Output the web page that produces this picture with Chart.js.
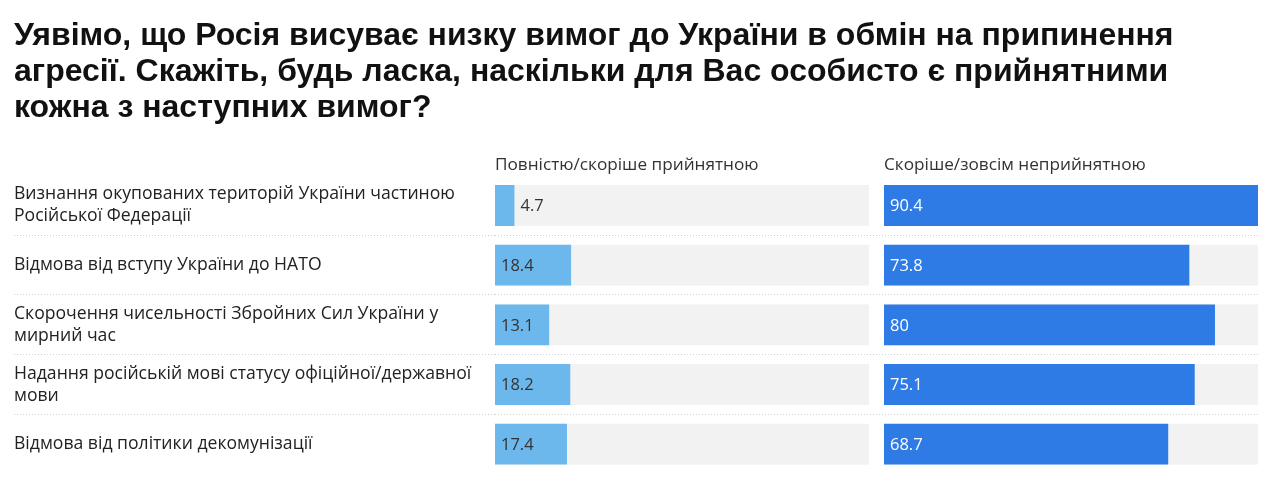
<!DOCTYPE html>
<html>
<head>
<meta charset="utf-8">
<script src="https://cdn.jsdelivr.net/npm/chart.js@4.4.1/dist/chart.umd.min.js"></script>
<style>
  html, body { margin: 0; padding: 0; background: #ffffff; }
  #wrap { width: 1279px; height: 494px; position: relative; }
</style>
</head>
<body>
<div id="wrap"><canvas id="c"></canvas></div>
<script>
const titleLines = [
  'Уявімо, що Росія висуває низку вимог до України в обмін на припинення',
  'агресії. Скажіть, будь ласка, наскільки для Вас особисто є прийнятними',
  'кожна з наступних вимог?'
];
const categories = [
  ['Визнання окупованих територій України частиною', 'Російської Федерації'],
  'Відмова від вступу України до НАТО',
  ['Скорочення чисельності Збройних Сил України у', 'мирний час'],
  ['Надання російській мові статусу офіційної/державної', 'мови'],
  'Відмова від політики декомунізації'
];
const seriesNames = ['Повністю/скоріше прийнятною', 'Скоріше/зовсім неприйнятною'];
const acceptable = [4.7, 18.4, 13.1, 18.2, 17.4];
const unacceptable = [90.4, 73.8, 80, 75.1, 68.7];

const colors = { light: '#6cb8ec', dark: '#2f7be6', track: '#f2f2f2' };
const valueMax = Math.max(...acceptable, ...unacceptable);
const bodyFont = 'Open Sans';

const trackPlugin = {
  id: 'tracks',
  beforeDatasetsDraw(chart) {
    const ctx = chart.ctx;
    ctx.save();
    ctx.fillStyle = colors.track;
    chart.data.datasets.forEach((ds, i) => {
      const meta = chart.getDatasetMeta(i);
      const sc = chart.scales[meta.xAxisID];
      meta.data.forEach(el => {
        const p = el.getProps(['y', 'height'], true);
        ctx.fillRect(sc.left, p.y - p.height / 2, sc.right - sc.left, p.height);
      });
    });
    ctx.restore();
  }
};

const valuePlugin = {
  id: 'values',
  afterDatasetsDraw(chart) {
    const ctx = chart.ctx;
    ctx.save();
    ctx.font = '16.5px "' + bodyFont + '"';
    ctx.textBaseline = 'middle';
    ctx.textAlign = 'left';
    chart.data.datasets.forEach((ds, i) => {
      const meta = chart.getDatasetMeta(i);
      meta.data.forEach((el, j) => {
        const p = el.getProps(['x', 'y', 'base'], true);
        const txt = String(ds.data[j]);
        const w = ctx.measureText(txt).width;
        const barW = p.x - p.base;
        if (barW < w + 14) {
          ctx.fillStyle = '#333333';
          ctx.fillText(txt, p.x + 6, p.y + 1);
        } else {
          ctx.fillStyle = ds.labelColor;
          ctx.fillText(txt, p.base + 6, p.y + 1);
        }
      });
    });
    ctx.restore();
  }
};

const gridColor = (c) => (typeof c.index === 'number' && c.index > 0) ? '#d2d2d2' : 'rgba(0,0,0,0)';

const topX = (title, stackWeight, weight) => ({
  type: 'linear',
  position: 'top',
  stack: 'cols',
  stackWeight: stackWeight,
  weight: weight,
  min: 0,
  max: valueMax,
  grid: { display: false, drawTicks: false, tickLength: 0 },
  border: { display: false },
  ticks: { display: false },
  title: {
    display: !!title,
    text: title || '',
    align: 'start',
    color: '#333333',
    font: { family: bodyFont, size: 17.2, lineHeight: 1.2 },
    padding: { top: 4, bottom: 0 }
  }
});

new Chart(document.getElementById('c'), {
  type: 'bar',
  data: {
    labels: categories,
    datasets: [
      {
        label: seriesNames[0],
        data: acceptable,
        xAxisID: 'x1',
        backgroundColor: colors.light,
        labelColor: '#333333',
        grouped: false,
        barPercentage: 0.685,
        categoryPercentage: 1
      },
      {
        label: seriesNames[1],
        data: unacceptable,
        xAxisID: 'x2',
        backgroundColor: colors.dark,
        labelColor: '#ffffff',
        grouped: false,
        barPercentage: 0.685,
        categoryPercentage: 1
      }
    ]
  },
  options: {
    indexAxis: 'y',
    responsive: true,
    maintainAspectRatio: false,
    animation: false,
    layout: { padding: { left: 14, right: 21, top: 0, bottom: 20 } },
    plugins: {
      legend: { display: false },
      tooltip: { enabled: false },
      title: {
        display: true,
        text: titleLines,
        align: 'start',
        color: '#111111',
        font: { family: 'Liberation Sans', size: 32, weight: 'bold', lineHeight: 1.125 },
        padding: { top: 18, bottom: 25 }
      }
    },
    scales: {
      x1: topX(seriesNames[0], 374, 3),
      xgap: topX('', 15, 2),
      x2: topX(seriesNames[1], 374, 1),
      y: {
        type: 'category',
        position: 'left',
        offset: true,
        border: { display: false, dash: [1, 2] },
        grid: {
          display: true,
          offset: true,
          drawOnChartArea: true,
          drawTicks: true,
          tickLength: 481,
          color: gridColor,
          tickColor: gridColor,
          tickBorderDash: [1, 2],
          lineWidth: 1
        },
        ticks: {
          crossAlign: 'far',
          color: '#222222',
          font: { family: bodyFont, size: 17.6, lineHeight: 1.25 }
        },
        afterFit(scale) {
          scale.width = 481;
          scale.paddingTop = 0;
          scale.paddingBottom = 0;
        }
      }
    }
  },
  plugins: [trackPlugin, valuePlugin]
});
</script>
</body>
</html>
